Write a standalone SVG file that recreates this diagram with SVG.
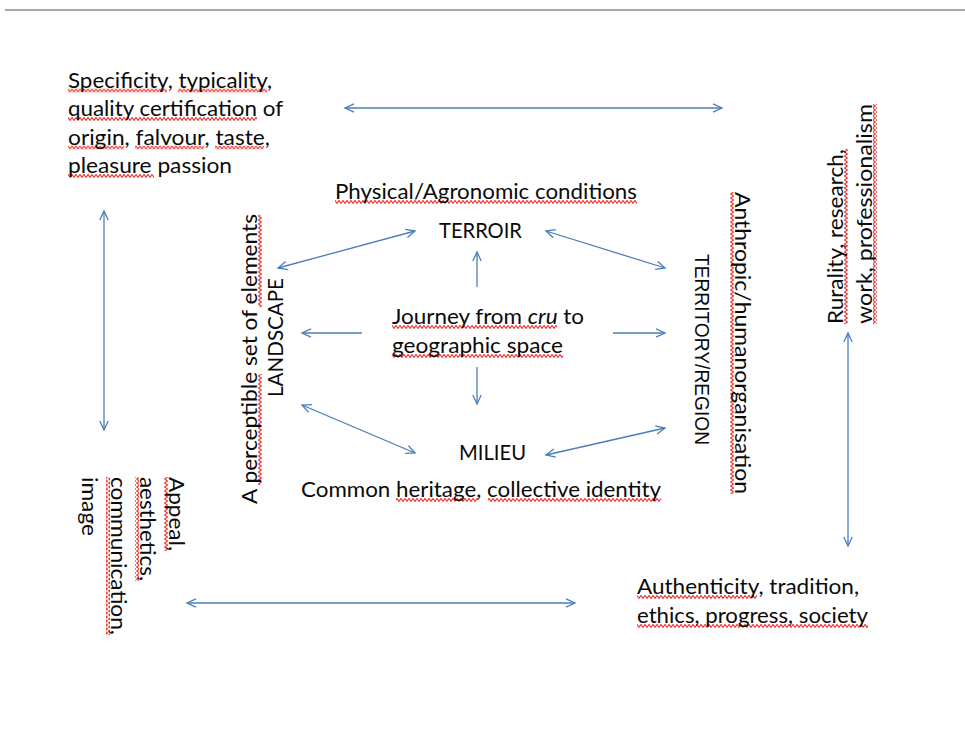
<svg xmlns="http://www.w3.org/2000/svg" width="965" height="733" viewBox="0 0 965 733">
<defs>
<style>
text{font-family:Lato,"Open Sans",sans-serif;font-size:22px;fill:#0a0a0a}
.tr{font-family:"Liberation Sans",Arial,sans-serif;font-size:20px}
.sq{fill:url(#wave)}
.c{fill:none;stroke:#4a7ebb;stroke-width:1.3}
</style>
<pattern id="wave" x="0" y="1" width="4" height="4" patternUnits="userSpaceOnUse">
<path d="M-1,1.2 L0,0.4 L2,3.4 L4,0.4 L5,1.2" fill="none" stroke="#f03a36" stroke-width="1.1"/>
</pattern>
<marker id="ah" markerWidth="12" markerHeight="12" refX="10" refY="5" orient="auto-start-reverse" markerUnits="userSpaceOnUse">
<path d="M1,0.8 L10,5 L1,9.2" fill="none" stroke="#4a7ebb" stroke-width="1.3"/>
</marker>
</defs>
<rect width="965" height="733" fill="#fff"/>
<line x1="5" y1="10" x2="965" y2="10" stroke="#a6a8ad" stroke-width="2"/>

<g id="n-specificity">
<g transform="translate(68,87.5)"><rect class="sq" x="0" y="1" width="99" height="4"/><rect class="sq" x="110" y="1" width="89" height="4"/><text x="0" y="0" textLength="204" lengthAdjust="spacingAndGlyphs">Specificity, typicality,</text></g>
<g transform="translate(68,116)"><rect class="sq" x="0" y="1" width="189" height="4"/><text x="0" y="0" textLength="215" lengthAdjust="spacingAndGlyphs">quality certification of</text></g>
<g transform="translate(68,144.5)"><rect class="sq" x="0" y="1" width="56" height="4"/><rect class="sq" x="67" y="1" width="69" height="4"/><rect class="sq" x="147" y="1" width="49" height="4"/><text x="0" y="0" textLength="202" lengthAdjust="spacingAndGlyphs">origin, falvour, taste,</text></g>
<g transform="translate(68,173)"><rect class="sq" x="0" y="1" width="86" height="4"/><text x="0" y="0" textLength="164" lengthAdjust="spacingAndGlyphs">pleasure passion</text></g>
</g>

<g id="n-physical" transform="translate(335,199)"><rect class="sq" x="0" y="1" width="302" height="4"/><text x="0" y="0" textLength="302" lengthAdjust="spacingAndGlyphs">Physical/Agronomic conditions</text></g>

<g id="n-terroir"><text x="439" y="238" textLength="83" lengthAdjust="spacingAndGlyphs">TERROIR</text></g>

<g id="n-journey">
<g transform="translate(392,324)"><rect class="sq" x="0" y="1" width="165" height="4"/><text x="0" y="0" textLength="192" lengthAdjust="spacingAndGlyphs">Journey from <tspan font-style="italic">cru</tspan> to</text></g>
<g transform="translate(392,353)"><rect class="sq" x="0" y="1" width="171" height="4"/><text x="0" y="0" textLength="171" lengthAdjust="spacingAndGlyphs">geographic space</text></g>
</g>

<g id="n-milieu"><text x="459" y="460" textLength="67" lengthAdjust="spacingAndGlyphs">MILIEU</text></g>

<g id="n-common" transform="translate(301,497)"><rect class="sq" x="95" y="1" width="82" height="4"/><rect class="sq" x="187" y="1" width="173" height="4"/><text x="0" y="0" textLength="360" lengthAdjust="spacingAndGlyphs">Common heritage, collective identity</text></g>

<g id="n-perceptible" transform="translate(257,504) rotate(-90)"><rect class="sq" x="19" y="1" width="111" height="4"/><rect class="sq" x="197" y="1" width="92" height="4"/><text x="0" y="0" textLength="290" lengthAdjust="spacingAndGlyphs">A perceptible set of elements</text></g>

<g id="n-landscape" transform="translate(283,397) rotate(-90)"><text x="0" y="0" textLength="119" lengthAdjust="spacingAndGlyphs">LANDSCAPE</text></g>

<g id="n-territory" transform="translate(695,254) rotate(90)"><text class="tr" x="0" y="0" textLength="191" lengthAdjust="spacingAndGlyphs">TERRITORY/REGION</text></g>

<g id="n-anthropic" transform="translate(735,192) rotate(90)"><rect class="sq" x="0" y="1" width="302" height="4"/><text x="0" y="0" textLength="302" lengthAdjust="spacingAndGlyphs">Anthropic/humanorganisation</text></g>

<g id="n-rurality" transform="translate(843,324) rotate(-90)">
<rect class="sq" x="0" y="1" width="175" height="4"/><text x="0" y="0" textLength="175" lengthAdjust="spacingAndGlyphs">Rurality, research,</text>
<rect class="sq" x="0" y="30" width="220" height="4"/><text x="0" y="29" textLength="220" lengthAdjust="spacingAndGlyphs">work, professionalism</text>
</g>

<g id="n-appeal" transform="translate(169,477) rotate(90)">
<rect class="sq" x="0" y="1" width="74" height="4"/><text x="0" y="0" textLength="74" lengthAdjust="spacingAndGlyphs">Appeal,</text>
<rect class="sq" x="0" y="30" width="104" height="4"/><text x="0" y="29" textLength="104" lengthAdjust="spacingAndGlyphs">aesthetics,</text>
<rect class="sq" x="0" y="59" width="158" height="4"/><text x="0" y="58" textLength="158" lengthAdjust="spacingAndGlyphs">communication,</text>
<text x="0" y="87" textLength="59" lengthAdjust="spacingAndGlyphs">image</text>
</g>

<g id="n-authenticity">
<g transform="translate(637,594)"><rect class="sq" x="0" y="1" width="120" height="4"/><text x="0" y="0" textLength="222" lengthAdjust="spacingAndGlyphs">Authenticity, tradition,</text></g>
<g transform="translate(637,623)"><rect class="sq" x="0" y="1" width="231" height="4"/><text x="0" y="0" textLength="231" lengthAdjust="spacingAndGlyphs">ethics, progress, society</text></g>
</g>

<g id="connectors">
<line class="c" x1="345" y1="108" x2="722" y2="108" marker-start="url(#ah)" marker-end="url(#ah)"/>
<line class="c" x1="187" y1="603" x2="575" y2="603" marker-start="url(#ah)" marker-end="url(#ah)"/>
<line class="c" x1="104" y1="211" x2="104" y2="430" marker-start="url(#ah)" marker-end="url(#ah)"/>
<line class="c" x1="848" y1="333" x2="848" y2="546" marker-start="url(#ah)" marker-end="url(#ah)"/>
<line class="c" x1="278" y1="268" x2="415" y2="231" marker-start="url(#ah)" marker-end="url(#ah)"/>
<line class="c" x1="546" y1="231" x2="665" y2="268" marker-start="url(#ah)" marker-end="url(#ah)"/>
<line class="c" x1="477" y1="287" x2="477" y2="252" marker-end="url(#ah)"/>
<line class="c" x1="362" y1="333" x2="302" y2="333" marker-end="url(#ah)"/>
<line class="c" x1="613" y1="333" x2="665" y2="333" marker-end="url(#ah)"/>
<line class="c" x1="477" y1="367" x2="477" y2="404" marker-end="url(#ah)"/>
<line class="c" x1="302" y1="405" x2="415" y2="453" marker-start="url(#ah)" marker-end="url(#ah)"/>
<line class="c" x1="546" y1="455" x2="665" y2="428" marker-start="url(#ah)" marker-end="url(#ah)"/>
</g>
</svg>
